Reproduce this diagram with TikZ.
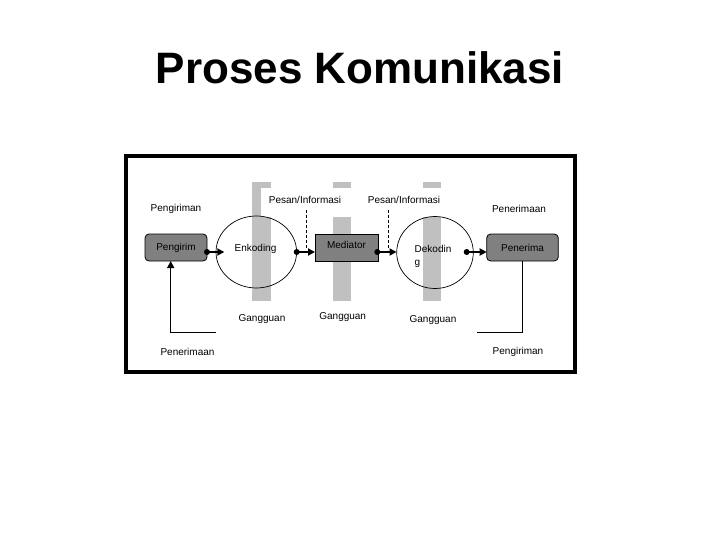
\documentclass[tikz,border=0pt]{standalone}
\usepackage{fontspec}
\setmainfont{Liberation Sans}
\usetikzlibrary{arrows.meta,shapes.geometric}
\definecolor{boxgray}{HTML}{808080}
\definecolor{bargray}{HTML}{C0C0C0}
\begin{document}
\begin{tikzpicture}[x=1pt,y=-1pt,
  lbl/.style={font=\fontsize{10}{12}\selectfont, inner sep=0pt},
  stepbox/.style={draw=black, line width=0.8pt, fill=boxgray, minimum width=62pt, minimum height=27pt, inner sep=0pt, font=\fontsize{10}{12}\selectfont},
  roundbox/.style={stepbox, rounded corners=4pt},
  oval/.style={ellipse, draw=black, line width=0.7pt, inner sep=0pt},
  flow/.style={line width=2pt, -{Triangle[length=7pt,width=7pt]}},
  fb/.style={line width=1.5pt},
  dot/.style={circle, fill=black, inner sep=0pt, minimum size=6pt},
  guide/.style={dashed, dash pattern=on 3pt off 2pt, line width=0.7pt},
  bar/.style={fill=bargray, draw=none}
]
\useasboundingbox (0,0) rectangle (720,540);
\fill[white] (0,0) rectangle (720,540);

% title
\node[anchor=base, font=\fontsize{44}{50}\selectfont\bfseries, inner sep=0pt] (title) at (360,84) {Proses Komunikasi};

% frame
\draw[line width=4pt] (126,156) rectangle (575.3,372);

% gray bars
\fill[bar] (252,182) rectangle (270.5,188);
\fill[bar] (252,188) rectangle (261,217);
\fill[bar] (252,217) rectangle (270.5,301);
\fill[bar] (332.7,182) rectangle (350.7,188);
\fill[bar] (332.7,216.7) rectangle (350.7,301);
\fill[bar] (422.7,182) rectangle (440.7,188);
\fill[bar] (422.7,216.7) rectangle (440.7,301);

% ovals
\node[oval, minimum width=80.6pt, minimum height=72pt] (enc) at (256.3,252) {};
\node[oval, minimum width=76.6pt, minimum height=72pt] (dec) at (435,252.5) {};

% boxes
\node[roundbox] (pengirim) at (176,247.5) {Pengirim};
\node[stepbox, minimum width=63pt] (mediator) at (346.5,247.5) {};
\node[lbl] (medtxt) at (346.5,245) {Mediator};
\node[roundbox, minimum width=71.6pt] (penerima) at (522.5,247.5) {Penerima};

% labels
\node[lbl] (t1) at (176,209) {Pengiriman};
\node[lbl] (t2) at (305,200) {Pesan/Informasi};
\node[lbl] (t3) at (404,200) {Pesan/Informasi};
\node[lbl] (t4) at (519,209) {Penerimaan};
\node[lbl] (enctxt) at (255.5,249) {Enkoding};
\node[lbl, align=left, anchor=west, font=\fontsize{10}{13}\selectfont] (dectxt) at (414.5,256.5) {Dekodin\\g};
\node[lbl] (g1) at (262,319) {Gangguan};
\node[lbl] (g2) at (342.7,317) {Gangguan};
\node[lbl] (g3) at (433,320) {Gangguan};
\node[lbl] (t5) at (187.5,352) {Penerimaan};
\node[lbl] (t6) at (518,352) {Pengiriman};

% dots and arrows
\coordinate (a1s) at (207,252);
\coordinate (a1e) at (224.3,252);
\coordinate (a2s) at (296.7,252);
\coordinate (a2e) at (315,252);
\coordinate (a3s) at (377.3,252);
\coordinate (a3e) at (396.5,252);
\coordinate (a4s) at (466.7,252);
\coordinate (a4e) at (486.7,252);
\draw[flow] (a1s) -- (a1e);
\draw[flow] (a2s) -- (a2e);
\draw[flow] (a3s) -- (a3e);
\draw[flow] (a4s) -- (a4e);
\node[dot] (d1) at (a1s) {};
\node[dot] (d2) at (a2s) {};
\node[dot] (d3) at (a3s) {};
\node[dot] (d4) at (a4s) {};

% dashed guides
\coordinate (g1a) at (306.7,210);
\coordinate (g1b) at (306.7,248);
\coordinate (g2a) at (388.3,210);
\coordinate (g2b) at (388.3,250);
\draw[guide] (g1a) -- (g1b);
\draw[guide] (g2a) -- (g2b);

% feedback lines
\coordinate (fbL) at (216,332.7);
\coordinate (fbLc) at (170.7,332.7);
\coordinate (fbLt) at (170.7,261);
\draw[fb, -{Triangle[length=7pt,width=7pt]}] (fbL) -- (fbLc) -- (fbLt);
\coordinate (fbRt) at (522.7,261);
\coordinate (fbRc) at (522.7,332.7);
\coordinate (fbR) at (476.7,332.7);
\draw[fb] (fbRt) -- (fbRc) -- (fbR);
\end{tikzpicture}
\end{document}
